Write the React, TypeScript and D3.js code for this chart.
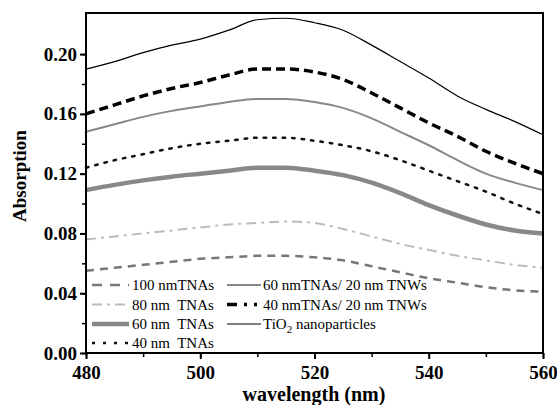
import React, { useEffect, useRef } from "react";
import * as d3 from "d3";

const wavelengths = [480, 485, 490, 495, 500, 505, 510, 515, 520, 525, 530, 535, 540, 545, 550, 555, 560];

const tna100 = [0.055, 0.057, 0.059, 0.061, 0.063, 0.064, 0.065, 0.065, 0.064, 0.062, 0.058, 0.054, 0.05, 0.047, 0.044, 0.042, 0.041];
const tna80 = [0.076, 0.078, 0.08, 0.082, 0.084, 0.086, 0.087, 0.088, 0.087, 0.083, 0.078, 0.073, 0.069, 0.065, 0.062, 0.059, 0.057];
const tna60 = [0.109, 0.1125, 0.1155, 0.118, 0.12, 0.122, 0.124, 0.124, 0.122, 0.119, 0.114, 0.107, 0.099, 0.092, 0.086, 0.082, 0.08];
const tna40 = [0.124, 0.129, 0.133, 0.137, 0.14, 0.142, 0.144, 0.144, 0.142, 0.139, 0.135, 0.129, 0.122, 0.115, 0.108, 0.1, 0.093];
const tna60tnw = [0.148, 0.153, 0.158, 0.162, 0.165, 0.168, 0.17, 0.17, 0.168, 0.164, 0.157, 0.148, 0.139, 0.129, 0.12, 0.114, 0.109];
const tna40tnw = [0.16, 0.166, 0.172, 0.177, 0.181, 0.186, 0.19, 0.19, 0.188, 0.183, 0.174, 0.164, 0.154, 0.145, 0.135, 0.127, 0.12];
const tio2 = [0.19, 0.195, 0.201, 0.206, 0.21, 0.216, 0.223, 0.224, 0.221, 0.216, 0.206, 0.195, 0.184, 0.172, 0.163, 0.155, 0.146];

const xTicks = [480, 500, 520, 540, 560];
const yTicks = [0, 0.04, 0.08, 0.12, 0.16, 0.2];

const series = [
  { name: "100 nmTNAs", values: tna100, color: "#777", width: 2.5, dash: "8,6", legendDash: "10,8" },
  { name: "80 nm  TNAs", values: tna80, color: "#bbb", width: 2, dash: "10,5,3,5", legendDash: "10,5,3,5" },
  { name: "60 nm  TNAs", values: tna60, color: "#888", width: 4.5, dash: null, legendDash: null },
  { name: "40 nm  TNAs", values: tna40, color: "#111", width: 2.5, dash: "2.5,7", legendDash: "3,8" },
  { name: "60 nmTNAs/ 20 nm TNWs", values: tna60tnw, color: "#888", width: 2, dash: null, legendDash: null },
  { name: "40 nmTNAs/ 20 nm TNWs", values: tna40tnw, color: "#000", width: 3.5, dash: "9,5", legendDash: "10,7,3,7,3,7" },
  { name: "TiO2 nanoparticles", values: tio2, color: "#000", width: 1.2, dash: null, legendDash: null },
];

const App = () => {
  const ref = useRef<SVGSVGElement>(null);

  useEffect(() => {
    const svg = d3.select(ref.current);
    svg.selectAll("*").remove();
    const left = 86, right = 543, top = 13, bottom = 353;
    const font = "Liberation Serif";

    const x = d3.scaleLinear().domain([480, 560]).range([left, right]);
    const y = d3.scaleLinear().domain([0, 0.2275]).range([bottom, top]);

    // curves
    const line = d3
      .line<number>()
      .x((d, i) => x(wavelengths[i]))
      .y((d) => y(d))
      .curve(d3.curveMonotoneX);

    series.forEach((s) => {
      svg
        .append("path")
        .attr("d", line(s.values))
        .attr("fill", "none")
        .attr("stroke", s.color)
        .attr("stroke-width", s.width)
        .attr("stroke-dasharray", s.dash)
        .attr("stroke-linecap", s.dash === "2.5,7" ? "round" : "butt");
    });

    // frame
    svg
      .append("rect")
      .attr("x", left)
      .attr("y", top)
      .attr("width", right - left)
      .attr("height", bottom - top)
      .attr("fill", "none")
      .attr("stroke", "#000")
      .attr("stroke-width", 2);

    // y axis
    const yAxis = svg
      .append("g")
      .attr("transform", `translate(${left},0)`)
      .call(d3.axisLeft(y).tickValues(d3.range(0, 0.21, 0.02)).tickSize(4).tickFormat(() => ""));
    yAxis.select(".domain").remove();
    yAxis.selectAll("line").attr("stroke-width", 1.5);
    const yMajor = svg
      .append("g")
      .attr("transform", `translate(${left},0)`)
      .call(d3.axisLeft(y).tickValues(yTicks).tickSize(6).tickPadding(3).tickFormat(d3.format(".2f")));
    yMajor.select(".domain").remove();
    yMajor.selectAll("line").attr("stroke-width", 2);
    yMajor
      .selectAll("text")
      .style("font-family", font)
      .style("font-size", "19px")
      .style("font-weight", "bold")
      .attr("fill", "#000");

    // x axis
    const xAxis = svg
      .append("g")
      .attr("transform", `translate(0,${bottom})`)
      .call(d3.axisBottom(x).tickValues(d3.range(480, 561, 10)).tickSize(4).tickFormat(() => ""));
    xAxis.select(".domain").remove();
    xAxis.selectAll("line").attr("stroke-width", 1.5);
    const xMajor = svg
      .append("g")
      .attr("transform", `translate(0,${bottom})`)
      .call(d3.axisBottom(x).tickValues(xTicks).tickSize(6).tickPadding(7).tickFormat(d3.format("d")));
    xMajor.select(".domain").remove();
    xMajor.selectAll("line").attr("stroke-width", 2);
    xMajor
      .selectAll("text")
      .style("font-family", font)
      .style("font-size", "19px")
      .style("font-weight", "bold")
      .attr("fill", "#000");

    // axis titles
    svg
      .append("text")
      .attr("transform", `translate(26,176) rotate(-90)`)
      .attr("text-anchor", "middle")
      .style("font-family", font)
      .style("font-size", "19px")
      .style("font-weight", "bold")
      .text("Absorption");
    svg
      .append("text")
      .attr("x", 314)
      .attr("y", 401)
      .attr("text-anchor", "middle")
      .style("font-family", font)
      .style("font-size", "20px")
      .style("font-weight", "bold")
      .text("wavelength (nm)");

    // legend
    const cols = [
      { x0: 92, x1: 129, tx: 132 },
      { x0: 227, x1: 261, tx: 263 },
    ];
    const rowY = [285, 304.5, 324, 343];
    series.forEach((s, i) => {
      const c = i < 4 ? cols[0] : cols[1];
      const r = i < 4 ? i : i - 4;
      const g = svg.append("g");
      g.append("line")
        .attr("x1", c.x0)
        .attr("x2", c.x1)
        .attr("y1", rowY[r])
        .attr("y2", rowY[r])
        .attr("stroke", s.color)
        .attr("stroke-width", s.width)
        .attr("stroke-dasharray", s.legendDash);
      const t = g
        .append("text")
        .attr("x", c.tx)
        .attr("y", rowY[r] + 5)
        .style("font-family", font)
        .style("font-size", "15px")
        .style("white-space", "pre")
        .attr("fill", "#000");
      if (s.name.startsWith("TiO2")) {
        t.append("tspan").text("TiO");
        t.append("tspan").style("font-size", "11px").attr("dy", 4).text("2");
        t.append("tspan").attr("dy", -4).text(" nanoparticles");
      } else {
        t.text(s.name);
      }
    });
  }, []);

  return (
    <svg
      ref={ref}
      width={557}
      height={405}
      style={{ position: "absolute", left: 0, top: 0, background: "#fff" }}
    />
  );
};

export default App;
